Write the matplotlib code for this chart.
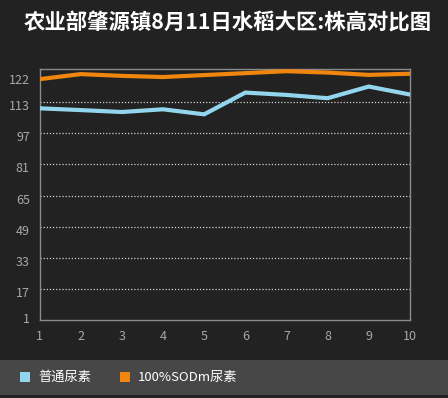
import matplotlib
matplotlib.use('Agg')
import matplotlib.pyplot as plt
import matplotlib.ticker as ticker
import matplotlib.transforms as mtransforms
from matplotlib.patches import Rectangle


# ==================== DATA ====================
TITLE          = '农业部肇源镇8月11日水稻大区:株高对比图'
SAMPLE_NO      = [1, 2, 3, 4, 5, 6, 7, 8, 9, 10]
SERIES_NAMES   = ['普通尿素', '100%SODm尿素']
NORMAL_UREA    = [109.9, 109.0, 108.0, 109.4, 106.8, 118.0, 116.8, 115.1, 121.1, 117.0]
SODM_UREA      = [124.9, 127.5, 126.6, 126.0, 127.0, 128.0, 129.0, 128.3, 127.1, 127.7]
Y_TICKS        = [1, 17, 33, 49, 65, 81, 97, 113, 122]
GRID_TICKS     = [17, 33, 49, 65, 81, 97, 113]

# ==================== STYLE ====================
BG_COLOR       = '#222222'
LEGEND_BG      = '#474747'
SERIES_COLORS  = ['#93d5ec', '#f0860f']
FRAME_COLOR    = '#8a8a8a'
LABEL_COLOR    = '#a8a8a8'
FONT           = ['Noto Sans CJK SC', 'DejaVu Sans']

plt.rcParams['font.family'] = FONT


def draw():
    fig = plt.figure(figsize=(4.48, 3.98), dpi=100, facecolor=BG_COLOR)
    ax = fig.add_axes([0.0882, 0.196, 0.915 - 0.0882, 0.826 - 0.196])
    ax.set_facecolor(BG_COLOR)

    # dotted grid lines
    for g in GRID_TICKS:
        ax.axhline(g, color='#d0d0d0', linestyle=(0, (1, 1.5)), linewidth=0.9, zorder=1)

    for values, color in zip([NORMAL_UREA, SODM_UREA], SERIES_COLORS):
        ax.plot(SAMPLE_NO, values, color=color, linewidth=3.0, solid_joinstyle='miter', zorder=3)

    ax.set_xlim(1, 10)
    ax.set_ylim(1, 130)
    ax.set_xticks(SAMPLE_NO)
    ax.set_yticks(Y_TICKS)
    ax.yaxis.set_major_formatter(ticker.FuncFormatter(lambda v, p: format(int(v))))

    for side in ['left', 'bottom', 'right', 'top']:
        ax.spines[side].set_color(FRAME_COLOR)
        ax.spines[side].set_linewidth(1.0)
    ax.tick_params(length=0, colors=LABEL_COLOR, labelsize=9)
    ax.tick_params(axis='y', pad=7)
    ax.tick_params(axis='x', pad=7)

    # y labels sit a little below their grid lines, the end labels are pulled inward
    labels = ax.get_yticklabels()
    for i, lab in enumerate(labels):
        dy = -3
        if i == 0:
            dy = 2
        elif i == len(labels) - 1:
            dy = 6
        lab.set_transform(lab.get_transform() +
                          mtransforms.ScaledTranslation(0, dy / 100, fig.dpi_scale_trans))

    fig.text(0.508, 0.943, TITLE, color='white', fontsize=15.4, fontweight='bold',
             ha='center', va='center')

    # legend band
    fig.patches.append(Rectangle((0, 0.0075), 1, 0.088, transform=fig.transFigure,
                                 facecolor=LEGEND_BG, edgecolor='none', zorder=0))
    legend_x = [20, 120]
    for name, color, x0 in zip(SERIES_NAMES, SERIES_COLORS, legend_x):
        fig.patches.append(Rectangle((x0 / 448, 1 - 382 / 398), 10 / 448, 10 / 398,
                                     transform=fig.transFigure, facecolor=color,
                                     edgecolor='none', zorder=1))
        fig.text((x0 + 18) / 448, 1 - 377 / 398, name, color='white', fontsize=9.5,
                 ha='left', va='center')

    fig.savefig('out.png', dpi=100, facecolor=BG_COLOR)


if __name__ == '__main__':
    draw()
